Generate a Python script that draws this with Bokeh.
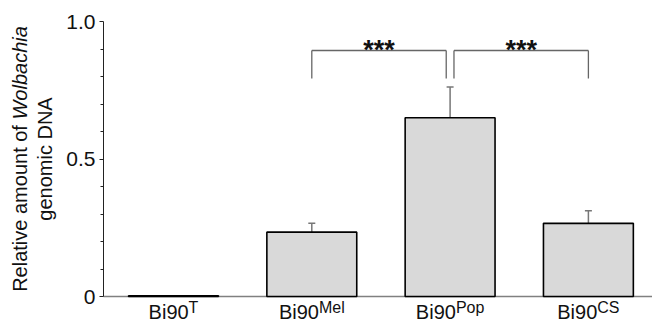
import math
from bokeh.plotting import figure
from bokeh.models import (ColumnDataSource, Whisker, TeeHead, Label, FixedTicker, LinearAxis)
from bokeh.embed import file_html
from bokeh.resources import INLINE

# ---------------- data ----------------
categories = ["Bi90", "Bi90", "Bi90", "Bi90"]
superscripts = ["T", "Mel", "Pop", "CS"]
values = [0.003, 0.234, 0.650, 0.266]
errors = [0.0, 0.032, 0.112, 0.046]
y_ticks = [0, 0.5, 1.0]
y_minor_ticks = [0.1, 0.2, 0.3, 0.4, 0.6, 0.7, 0.8, 0.9]
y_tick_labels = ["0", "0.5", "1.0"]
comparisons = [(1, 2), (2, 3)]
comparison_marks = ["***", "***"]

# ---------------- layout (pixels) ----------------
W, H = 652, 324
AX_LEFT = 103          # y axis position
Y0_PX, Y1_PX = 296, 21  # pixel rows of y = 0 and y = 1
CAT0_PX, CAT_STEP = 173, 138.3
FONT = "Liberation Sans"
BASE_FIX = 7           # correction of the rendered alphabetic baseline

X_START = -CAT0_PX / CAT_STEP
X_END = (W - CAT0_PX) / CAT_STEP
PPU = (Y0_PX - Y1_PX)
Y_START = -(H - Y0_PX) / PPU
Y_END = 1.0 + Y1_PX / PPU

def dx(px):
    return (px - CAT0_PX) / CAT_STEP

def dy(py):
    return (Y0_PX - py) / PPU

ARIAL = {"B": 667, "i": 222, "9": 556, "0": 556, "T": 611, "M": 833, "e": 556,
         "l": 222, "P": 667, "o": 556, "p": 556, "C": 722, "S": 667, " ": 278,
         "R": 722, "a": 556, "t": 278, "v": 500, "m": 833, "u": 556, "n": 556,
         "f": 278, "g": 556, "c": 500, "D": 722, "N": 722, "A": 667, "W": 944,
         "b": 556, "h": 556}

def tw(s, size):
    return sum(ARIAL.get(ch, 556) for ch in s) / 1000.0 * size

p = figure(width=W, height=H, output_backend="svg", toolbar_location=None,
           x_range=(X_START, X_END), y_range=(Y_START, Y_END),
           x_axis_location=None, y_axis_location=None,
           min_border=0, min_border_left=0, min_border_right=0,
           min_border_top=0, min_border_bottom=0)
p.outline_line_color = None
p.background_fill_color = "white"
p.border_fill_color = "white"
p.grid.visible = False

xs = list(range(len(values)))
src = ColumnDataSource(dict(x=xs, top=values))
p.vbar(x="x", top="top", width=0.65, bottom=0, source=src,
       fill_color="#d9d9d9", line_color="black", line_width=1.6)

ex = [x for x, e in zip(xs, errors) if e > 0]
ev = [v for v, e in zip(values, errors) if e > 0]
ee = [e for e in errors if e > 0]
esrc = ColumnDataSource(dict(x=ex, upper=[v + e for v, e in zip(ev, ee)],
                             lower=[v - e for v, e in zip(ev, ee)]))
wh = Whisker(base="x", upper="upper", lower="lower", source=esrc,
             line_color="#777777", line_width=1.5,
             upper_head=TeeHead(size=7, line_color="#777777", line_width=1.5),
             lower_head=TeeHead(size=7, line_color="#777777", line_width=1.5))
p.add_layout(wh)

# x axis (line only)
xaxis = LinearAxis(fixed_location=0, bounds=(dx(AX_LEFT), X_END),
                   ticker=FixedTicker(ticks=[]))
xaxis.major_tick_line_color = None
xaxis.minor_tick_line_color = None
xaxis.major_label_text_font_size = "0px"
xaxis.axis_line_color = "#808080"
xaxis.axis_line_width = 1.5
xaxis.level = "underlay"
p.add_layout(xaxis, "below")

# y axis
yaxis = LinearAxis(fixed_location=dx(AX_LEFT), bounds=(0, 1),
                   ticker=FixedTicker(ticks=y_ticks, minor_ticks=y_minor_ticks))
yaxis.major_label_overrides = {t: l for t, l in zip(y_ticks, y_tick_labels)}
yaxis.major_tick_in = 0
yaxis.major_tick_out = 4
yaxis.minor_tick_in = 0
yaxis.minor_tick_out = 3
yaxis.axis_line_color = "#222222"
yaxis.major_tick_line_color = "#222222"
yaxis.minor_tick_line_color = "#222222"
yaxis.major_label_text_font = FONT
yaxis.major_label_text_font_size = "21px"
yaxis.major_label_text_color = "#111111"
yaxis.major_label_standoff = 4
p.add_layout(yaxis, "left")

# category labels with superscripts
MAIN_SIZE, SUP_SIZE = 20, 16
for i, (base, sup) in enumerate(zip(categories, superscripts)):
    wm = tw(base, MAIN_SIZE)
    ws = tw(sup, SUP_SIZE)
    total = wm + ws
    p.add_layout(Label(x=i, y=dy(318 - BASE_FIX), x_offset=-total / 2, text=base,
                       text_font=FONT, text_font_size=f"{MAIN_SIZE}px",
                       text_align="left", text_baseline="alphabetic",
                       text_color="#111111"))
    p.add_layout(Label(x=i, y=dy(314 - BASE_FIX), x_offset=-total / 2 + wm, text=sup,
                       text_font=FONT, text_font_size=f"{SUP_SIZE}px",
                       text_align="left", text_baseline="alphabetic",
                       text_color="#111111"))

# y-axis title (two lines, rotated)
TS = 20
l1a = "Relative amount of "
l1b = "Wolbachia"
l2 = "genomic DNA"
cy = (Y0_PX + Y1_PX) / 2
w1 = tw(l1a, TS) + tw(l1b, TS)
start1 = cy + w1 / 2
L1_X, L2_X = 19, 44
p.add_layout(Label(x=dx(L1_X), y=dy(start1), text=l1a, angle=math.pi / 2,
                   text_font=FONT, text_font_size=f"{TS}px",
                   text_align="left", text_baseline="alphabetic", text_color="#111111"))
p.add_layout(Label(x=dx(L1_X), y=dy(start1 - tw(l1a, TS)), text=l1b, angle=math.pi / 2,
                   text_font=FONT, text_font_size=f"{TS}px", text_font_style="italic",
                   text_align="left", text_baseline="alphabetic", text_color="#111111"))
p.add_layout(Label(x=dx(L2_X), y=dy(cy), text=l2, angle=math.pi / 2,
                   text_font=FONT, text_font_size=f"{TS}px",
                   text_align="center", text_baseline="alphabetic", text_color="#111111"))

# significance brackets
GAP = 0.028
BR_TOP, BR_BOT = dy(50), dy(78)
bx0, bx1, by0, by1 = [], [], [], []
for k, (a, b) in enumerate(comparisons):
    left = a + (GAP if k > 0 else 0.0)
    right = b - (GAP if k < len(comparisons) - 1 else 0.0)
    bx0 += [left, left, right]
    by0 += [BR_BOT, BR_TOP, BR_TOP]
    bx1 += [left, right, right]
    by1 += [BR_TOP, BR_TOP, BR_BOT]
    p.add_layout(Label(x=(left + right) / 2, y=dy(49), text=comparison_marks[k],
                       text_font=FONT, text_font_size="27px", text_font_style="bold",
                       text_align="center", text_baseline="alphabetic", text_color="#111111"))
p.segment(x0=bx0, y0=by0, x1=bx1, y1=by1, line_color="#666666", line_width=1.3)

open("out.html", "w").write(file_html(p, INLINE))
